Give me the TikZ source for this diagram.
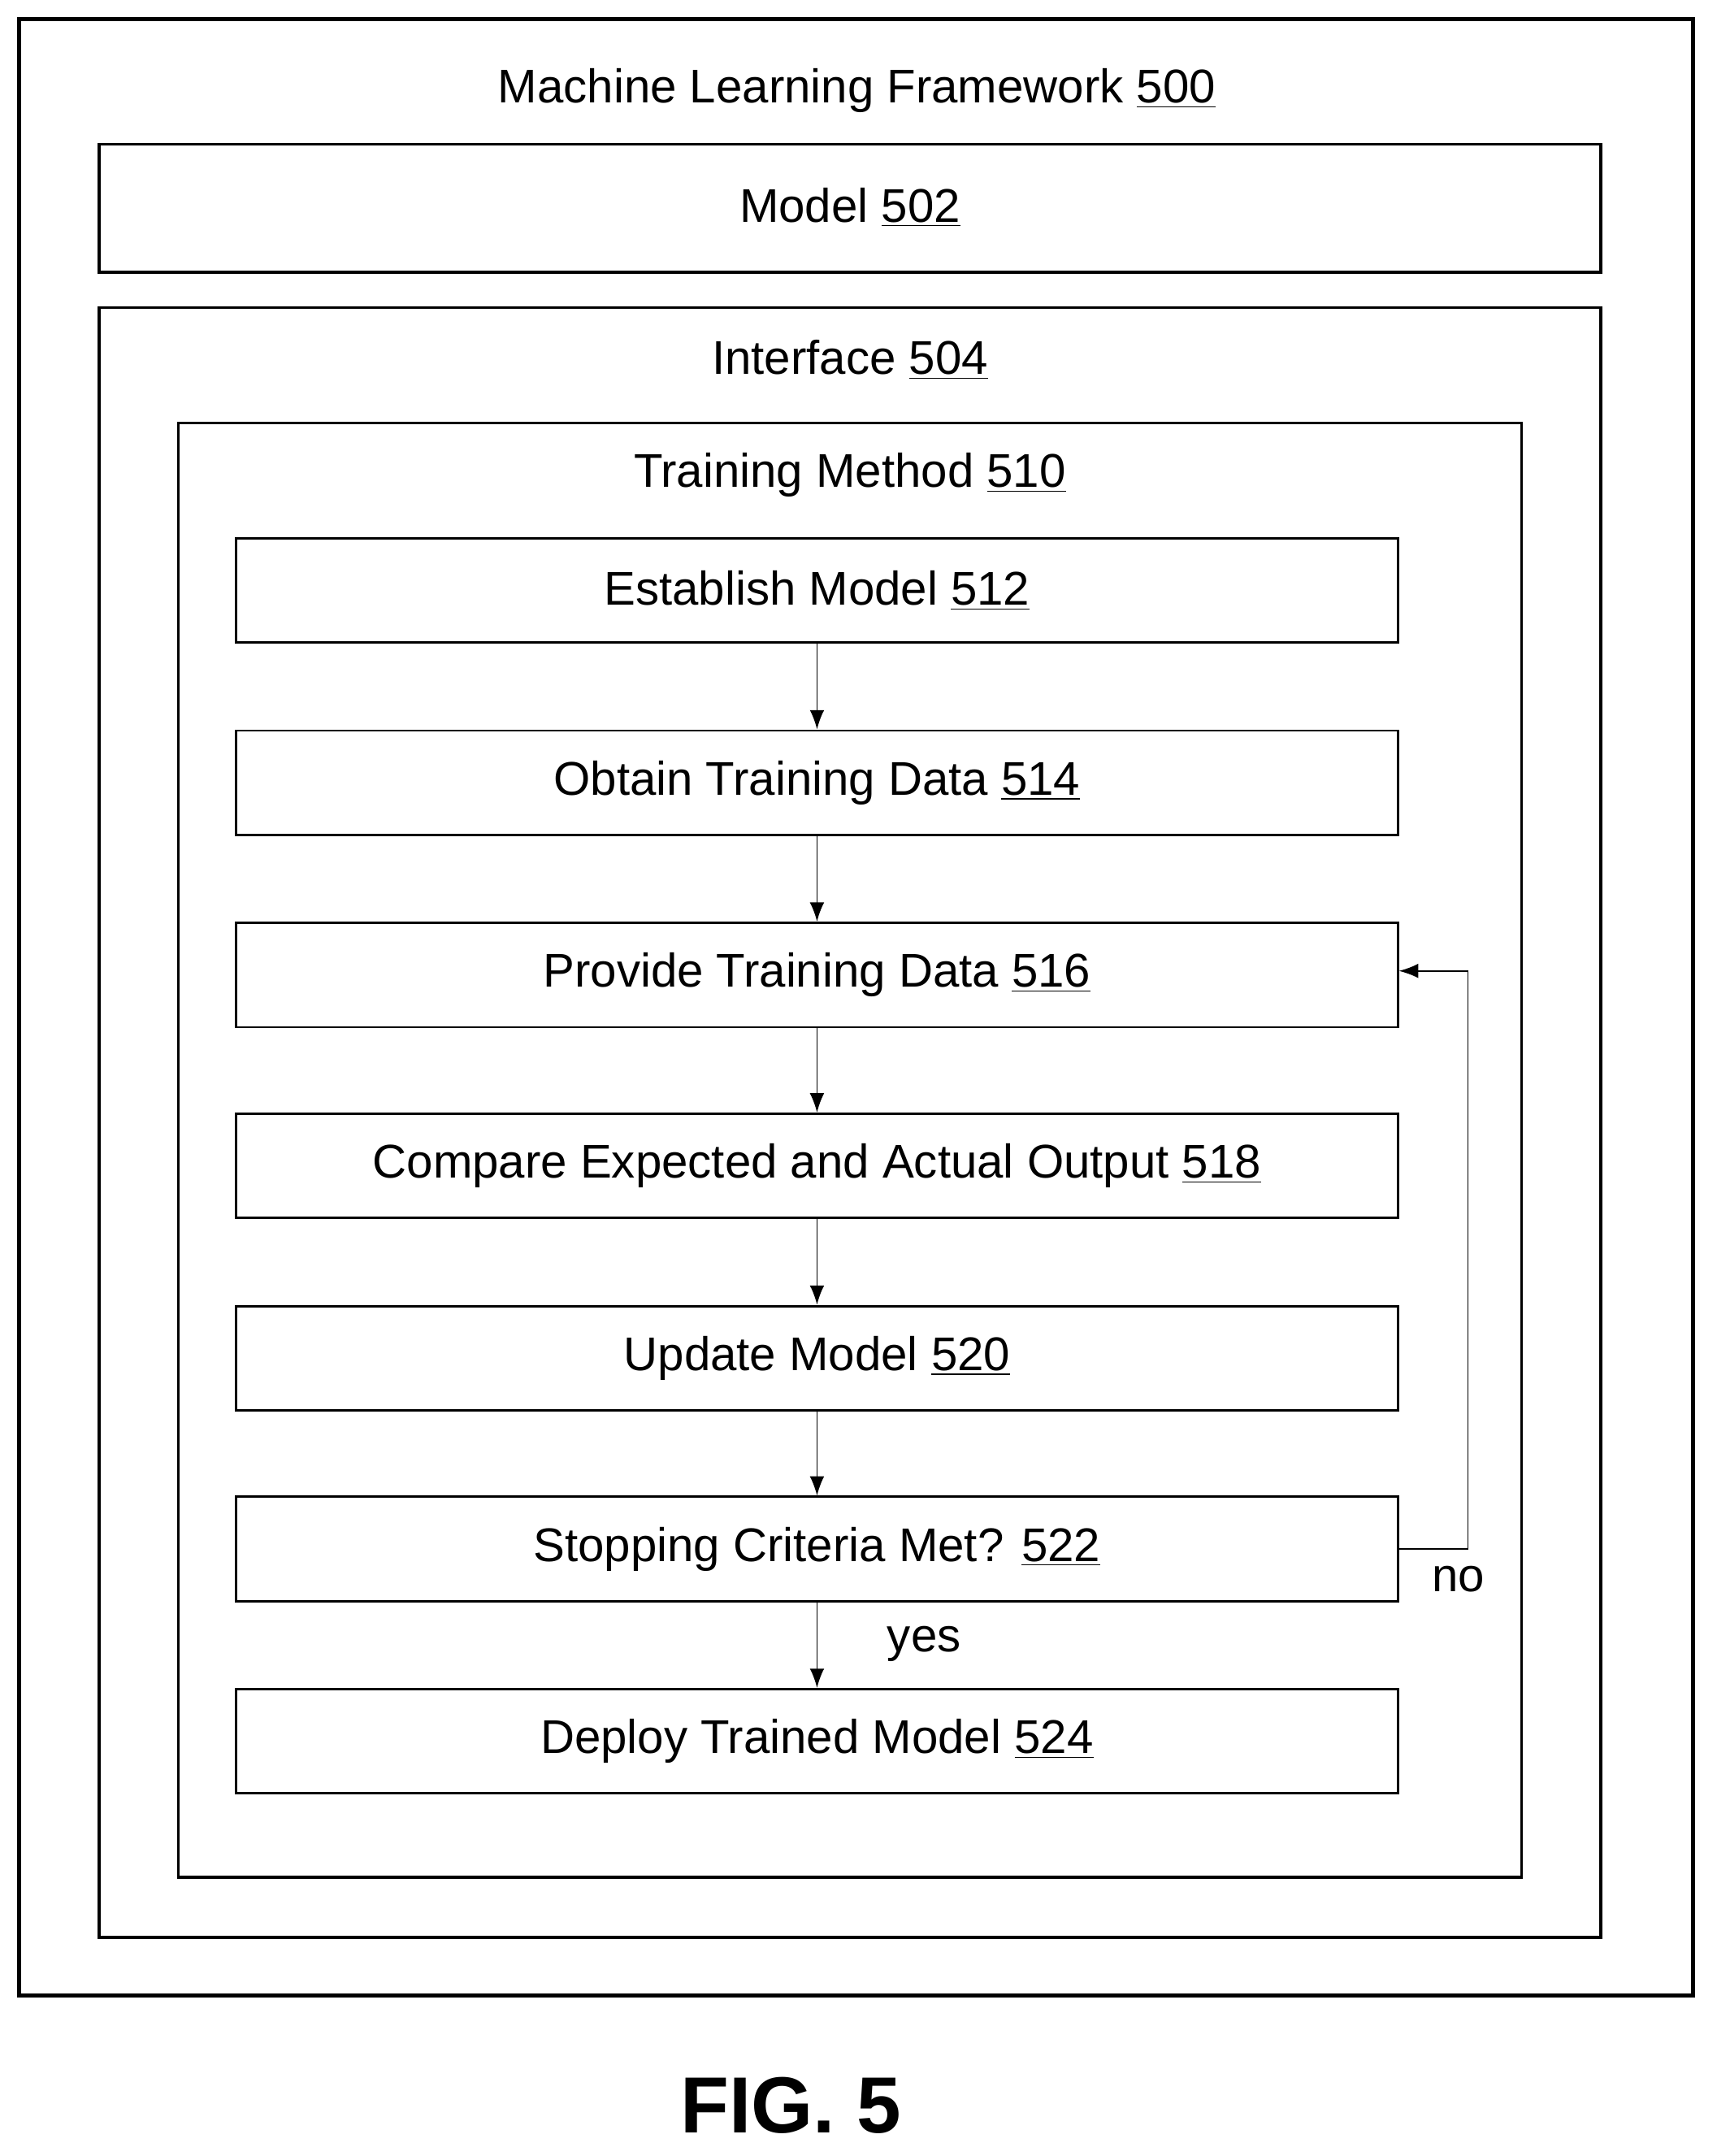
\documentclass[tikz,border=0pt]{standalone}
\usepackage{fontspec}
\setmainfont{Liberation Sans}
\usetikzlibrary{arrows.meta}
\begin{document}
\begin{tikzpicture}[x=0.02cm,y=-0.02cm,
  frame/.style={draw,line width=1.6pt},
  stepbox/.style={draw,line width=1pt,minimum width=16.92cm,minimum height=1.52cm,inner sep=0pt,font=\fontsize{19.6}{22}\selectfont},
  lbl/.style={font=\fontsize{19.6}{22}\selectfont},
  arr/.style={-{Latex[length=8pt,width=6pt]},line width=0.6pt}]
\useasboundingbox (0,0) rectangle (1250,1570);
\draw[frame] (14,14) rectangle (1233,1453);
\node[lbl] (t500) at (624,66) {Machine Learning Framework \underline{500}};
\draw[frame,line width=1.3pt] (72,105) rectangle (1166,198);
\node[lbl] (t502) at (619,151) {Model \underline{502}};
\draw[frame,line width=1.3pt] (72,224) rectangle (1166,1411);
\node[lbl] (t504) at (619,262) {Interface \underline{504}};
\draw[line width=1.1pt] (130,308) rectangle (1108,1367);
\node[lbl] (t510) at (619,346) {Training Method \underline{510}};
\node[stepbox] (s512) at (595,430) {Establish Model \underline{512}};
\node[stepbox] (s514) at (595,570) {Obtain Training Data \underline{514}};
\node[stepbox] (s516) at (595,710) {Provide Training Data \underline{516}};
\node[stepbox] (s518) at (595,849) {Compare Expected and Actual Output \underline{518}};
\node[stepbox] (s520) at (595,989) {Update Model \underline{520}};
\node[stepbox] (s522) at (595,1128) {Stopping Criteria Met? \underline{522}};
\node[stepbox] (s524) at (595,1268) {Deploy Trained Model \underline{524}};
\draw[arr] (s512) -- (s514);
\draw[arr] (s514) -- (s516);
\draw[arr] (s516) -- (s518);
\draw[arr] (s518) -- (s520);
\draw[arr] (s520) -- (s522);
\draw[arr] (s522) -- (s524);
\coordinate (c1) at (1069,1128);
\coordinate (c2) at (1069,707);
\draw[arr] (s522.east) -- (c1) -- (c2) -- (s516.east |- c2);
\node[lbl] (no) at (1062,1150) {no};
\node[lbl] (yes) at (673,1197) {yes};
\node[font=\fontsize{33}{36}\selectfont\bfseries] (fig) at (576,1533) {FIG. 5};
\end{tikzpicture}
\end{document}
